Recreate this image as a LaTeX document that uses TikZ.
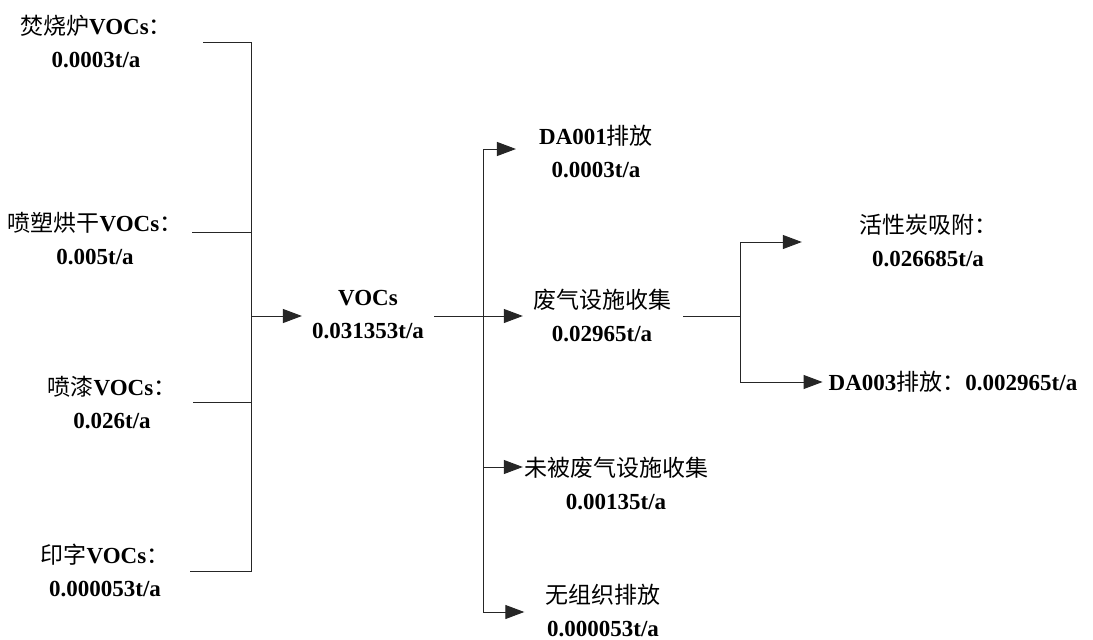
\documentclass[tikz,border=0pt]{standalone}
\usepackage{fontspec}
\setmainfont{Liberation Serif}
\newfontfamily\cjk{Noto Sans CJK SC}
\usetikzlibrary{arrows.meta}
\newcommand{\zh}[1]{{\cjk\mdseries #1}}
\tikzset{
  txt/.style={align=center, inner sep=0pt},
  ln/.style={line width=1pt, black!85},
  arr/.style={ln, -{Triangle[length=19pt,width=14pt]}}
}
\begin{document}
\begin{tikzpicture}[x=1pt, y=-1pt, font=\fontsize{23}{33}\selectfont\bfseries]
\path[use as bounding box, fill=white] (0,0) rectangle (1093,640);

% source nodes
\node[txt] (s1) at (96,42)  {\zh{焚烧炉}VOCs\zh{：}\\0.0003t/a};
\node[txt] (s2) at (95,239) {\zh{喷塑烘干}VOCs\zh{：}\\0.005t/a};
\node[txt] (s3) at (112,402) {\zh{喷漆}VOCs\zh{：}\\0.026t/a};
\node[txt] (s4) at (105,570) {\zh{印字}VOCs\zh{：}\\0.000053t/a};

% total
\node[txt] (v) at (368,315) {VOCs\\0.031353t/a};

% branches
\node[txt] (d1) at (596,151) {DA001\zh{排放}\\0.0003t/a};
\node[txt] (g)  at (602,315) {\zh{废气设施收集}\\0.02965t/a};
\node[txt] (u)  at (616,483) {\zh{未被废气设施收集}\\0.00135t/a};
\node[txt] (n)  at (603,610) {\zh{无组织排放}\\0.000053t/a};

% treatment
\node[txt] (a)  at (928,240) {\zh{活性炭吸附：}\\0.026685t/a};
\node[txt] (d3) at (953,382) {DA003\zh{排放：}0.002965t/a};

% left bracket
\coordinate (s1e) at (203,42);
\coordinate (s2e) at (192,232);
\coordinate (s3e) at (193,402);
\coordinate (s4e) at (190,571);
\coordinate (b1) at (251,42);
\coordinate (b2) at (251,232);
\coordinate (b3) at (251,402);
\coordinate (b4) at (251,571);
\coordinate (bm) at (251,316);
\draw[ln] (s1e) -- (b1) -- (b4) -- (s4e);
\draw[ln] (s2e) -- (b2);
\draw[ln] (s3e) -- (b3);
\draw[arr, shorten >=10pt] (bm) -- (bm -| v.west);

% middle fork
\coordinate (ve) at (434,316);
\coordinate (m1) at (483,149);
\coordinate (m2) at (483,316);
\coordinate (m3) at (483,467);
\coordinate (m4) at (483,612);
\draw[ln] (ve) -- (m2);
\draw[ln] (m1) -- (m4);
\draw[arr, shorten >=23pt] (m1) -- (m1 -| d1.west);
\draw[arr, shorten >=10pt] (m2) -- (m2 -| g.west);
\draw[arr, shorten >=1pt]  (m3) -- (m3 -| u.west);
\draw[arr, shorten >=21pt] (m4) -- (m4 -| n.west);

% right fork
\coordinate (ge) at (683,316);
\coordinate (r0) at (740,316);
\coordinate (r1) at (740,242);
\coordinate (r2) at (740,382);
\draw[ln] (ge) -- (r0);
\draw[ln] (r1) -- (r2);
\draw[arr, shorten >=57pt] (r1) -- (r1 -| a.west);
\draw[arr, shorten >=6pt]  (r2) -- (r2 -| d3.west);
\end{tikzpicture}
\end{document}
